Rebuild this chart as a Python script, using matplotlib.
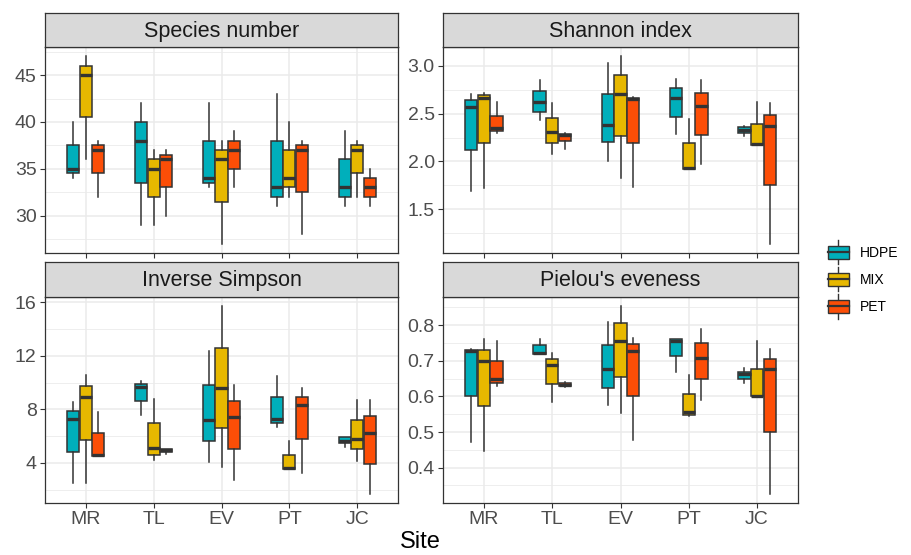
import matplotlib
matplotlib.use("Agg")
import matplotlib.pyplot as plt
from matplotlib.patches import Rectangle
from matplotlib.lines import Line2D
from matplotlib.legend_handler import HandlerBase
import numpy as np

plt.rcParams['font.family'] = ['Liberation Sans', 'DejaVu Sans']

sites = ["MR", "TL", "EV", "PT", "JC"]
groups = ["HDPE", "MIX", "PET"]
colors = ["#00AFBB", "#E7B800", "#FC4E07"]

# each entry: (lower whisker, Q1, median, Q3, upper whisker) per site MR, TL, EV, PT, JC
species_hdpe = [(34, 34.5, 35, 37.5, 40), (29, 33.5, 38, 40, 42), (33, 33.5, 34, 38, 42),
                (31, 32, 33, 38, 43), (31, 32, 33, 36, 39)]
species_mix = [(36, 40.5, 45, 46, 47), (29, 32, 35, 36, 37), (27, 31.5, 36, 37, 38),
               (32, 33, 34, 37, 40), (32, 34.5, 37, 37.5, 38)]
species_pet = [(32, 34.5, 37, 37.5, 38), (30, 33, 36, 36.5, 37), (33, 35, 37, 38, 39),
               (28, 32.5, 37, 37.5, 38), (31, 32, 33, 34, 35)]

shannon_hdpe = [(1.69, 2.12, 2.57, 2.64, 2.71), (2.43, 2.52, 2.62, 2.74, 2.85), (2.01, 2.20, 2.38, 2.71, 3.03),
                (2.29, 2.47, 2.66, 2.77, 2.86), (2.27, 2.30, 2.33, 2.36, 2.37)]
shannon_mix = [(1.72, 2.19, 2.66, 2.70, 2.72), (2.08, 2.19, 2.31, 2.46, 2.61), (1.83, 2.27, 2.71, 2.91, 3.10),
               (1.92, 1.92, 1.93, 2.19, 2.44), (2.17, 2.17, 2.18, 2.39, 2.62)]
shannon_pet = [(2.30, 2.32, 2.35, 2.48, 2.62), (2.13, 2.21, 2.28, 2.29, 2.30), (1.73, 2.19, 2.65, 2.66, 2.67),
               (1.97, 2.28, 2.58, 2.72, 2.85), (1.14, 1.75, 2.37, 2.49, 2.61)]

invsimp_hdpe = [(2.5, 4.85, 7.3, 7.9, 8.54), (7.6, 8.6, 9.7, 9.9, 10.1), (4.05, 5.6, 7.2, 9.8, 12.4),
                (6.7, 7.0, 7.3, 8.9, 10.5), (5.15, 5.5, 5.6, 5.9, 5.95)]
invsimp_mix = [(2.5, 5.7, 8.9, 9.75, 10.6), (4.2, 4.6, 5.1, 7.0, 8.8), (3.7, 6.6, 9.6, 12.6, 15.7),
               (3.55, 3.55, 3.65, 4.6, 5.65), (4.15, 5.0, 5.8, 7.2, 8.7)]
invsimp_pet = [(4.5, 4.5, 4.6, 6.2, 7.8), (4.7, 4.85, 4.95, 5.05, 5.05), (2.7, 5.05, 7.4, 8.6, 9.8),
               (3.25, 5.8, 8.35, 8.95, 9.6), (1.7, 3.95, 6.2, 7.5, 8.7)]

pielou_hdpe = [(0.472, 0.60, 0.728, 0.73, 0.733), (0.72, 0.72, 0.722, 0.744, 0.762), (0.575, 0.625, 0.676, 0.744, 0.81),
               (0.669, 0.714, 0.757, 0.762, 0.762), (0.639, 0.649, 0.663, 0.669, 0.68)]
pielou_mix = [(0.446, 0.573, 0.70, 0.73, 0.762), (0.584, 0.635, 0.688, 0.706, 0.723), (0.553, 0.654, 0.757, 0.806, 0.853),
              (0.545, 0.549, 0.556, 0.608, 0.661), (0.60, 0.60, 0.60, 0.676, 0.755)]
pielou_pet = [(0.63, 0.639, 0.65, 0.70, 0.756), (0.626, 0.628, 0.633, 0.639, 0.641), (0.477, 0.60, 0.727, 0.746, 0.765),
              (0.591, 0.65, 0.709, 0.75, 0.79), (0.327, 0.50, 0.678, 0.706, 0.734)]

panel_titles = ["Species number", "Shannon index", "Inverse Simpson", "Pielou's eveness"]
species_ticks = [30, 35, 40, 45]
shannon_ticks = [1.5, 2.0, 2.5, 3.0]
invsimp_ticks = [4, 8, 12, 16]
pielou_ticks = [0.4, 0.5, 0.6, 0.7, 0.8]

W, H = 912, 555
fig = plt.figure(figsize=(W / 100, H / 100), dpi=100)

EDGE = "#333333"
GRID = "#EBEBEB"
TICKC = "#4D4D4D"


def rect_px(x0, y0, x1, y1):
    return [x0 / W, 1 - y1 / H, (x1 - x0) / W, (y1 - y0) / H]


def draw_panel(px, strip_px, title, series, ticks, show_x):
    ax = fig.add_axes(rect_px(*px))
    base = np.arange(1, len(sites) + 1)
    for gi, (vals, col) in enumerate(zip(series, colors)):
        stats = [dict(whislo=v[0], q1=v[1], med=v[2], q3=v[3], whishi=v[4]) for v in vals]
        pos = base + (gi - 1) * 0.185
        ax.bxp(stats, positions=pos, widths=0.18, patch_artist=True, showfliers=False,
               showcaps=False, manage_ticks=False,
               boxprops=dict(facecolor=col, edgecolor=EDGE, linewidth=1.1),
               medianprops=dict(color=EDGE, linewidth=2.4, solid_capstyle='butt'),
               whiskerprops=dict(color=EDGE, linewidth=1.1),
               zorder=3)
    ax.set_yticks(ticks)
    minor = [(a + b) / 2 for a, b in zip(ticks[:-1], ticks[1:])]
    step = ticks[1] - ticks[0]
    minor = [ticks[0] - step / 2] + minor + [ticks[-1] + step / 2]
    ax.set_yticks(minor, minor=True)
    ax.set_xticks(base)
    ax.set_xticklabels(sites if show_x else [])
    allv = np.array(series).ravel()
    lo, hi = allv.min(), allv.max()
    pad = 0.05 * (hi - lo)
    ax.set_ylim(lo - pad, hi + pad)
    ax.set_xlim(0.4, 5.6)
    ax.grid(True, which='major', color=GRID, linewidth=1.1, zorder=0)
    ax.grid(True, which='minor', axis='y', color=GRID, linewidth=0.6, zorder=0)
    ax.set_axisbelow(True)
    ax.tick_params(which='major', length=3.5, width=0.8, color=EDGE, labelsize=14,
                   labelcolor=TICKC, pad=2.5)
    ax.tick_params(which='minor', length=0)
    for s in ax.spines.values():
        s.set_color(EDGE)
        s.set_linewidth(0.9)
    sax = fig.add_axes(rect_px(*strip_px))
    sax.set_facecolor("#D9D9D9")
    sax.set_xticks([])
    sax.set_yticks([])
    for s in sax.spines.values():
        s.set_color(EDGE)
        s.set_linewidth(0.9)
    sax.text(0.5, 0.47, title, ha='center', va='center', fontsize=15.5, color="#1A1A1A",
             transform=sax.transAxes)
    return ax


draw_panel((45, 47, 398, 253), (45, 13, 398, 47), panel_titles[0],
           [species_hdpe, species_mix, species_pet], species_ticks, False)
draw_panel((443, 47, 798, 253), (443, 13, 798, 47), panel_titles[1],
           [shannon_hdpe, shannon_mix, shannon_pet], shannon_ticks, False)
draw_panel((45, 297, 398, 503), (45, 262, 398, 297), panel_titles[2],
           [invsimp_hdpe, invsimp_mix, invsimp_pet], invsimp_ticks, True)
draw_panel((443, 297, 798, 503), (443, 262, 798, 297), panel_titles[3],
           [pielou_hdpe, pielou_mix, pielou_pet], pielou_ticks, True)

fig.text(420 / W, 1 - 542 / H, "Site", ha='center', va='center', fontsize=17, color="black")


class BoxHandler(HandlerBase):
    def create_artists(self, legend, orig_handle, xdescent, ydescent, width, height,
                       fontsize, trans):
        cy = height / 2 - ydescent
        bh = 9.4
        wh = 4.0
        x0 = -xdescent
        cx = x0 + width / 2
        rect = Rectangle((x0, cy - bh / 2), width, bh, facecolor=orig_handle.get_facecolor(),
                         edgecolor=EDGE, linewidth=1.0, transform=trans)
        med = Line2D([x0, x0 + width], [cy, cy], color=EDGE, linewidth=1.6, transform=trans)
        w1 = Line2D([cx, cx], [cy + bh / 2, cy + bh / 2 + wh], color=EDGE, linewidth=1.0, transform=trans)
        w2 = Line2D([cx, cx], [cy - bh / 2, cy - bh / 2 - wh], color=EDGE, linewidth=1.0, transform=trans)
        return [w1, w2, rect, med]


handles = [Rectangle((0, 0), 1, 1, facecolor=c) for c in colors]
fig.legend(handles, groups, handler_map={Rectangle: BoxHandler()},
           loc='center left', bbox_to_anchor=(818 / W, 1 - 280 / H),
           frameon=False, fontsize=10, handlelength=1.5, handleheight=1.0,
           handletextpad=0.8, labelspacing=0.95, borderpad=0.2)

fig.savefig("out.png", dpi=100)
